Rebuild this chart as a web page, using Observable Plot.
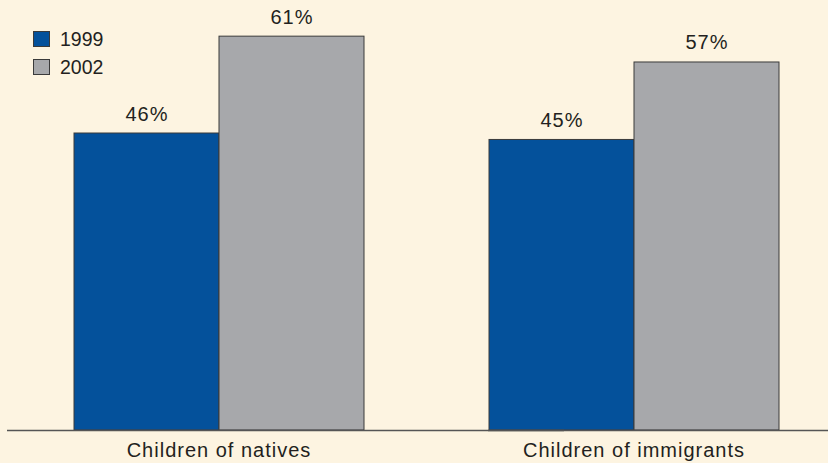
<!DOCTYPE html>
<html>
<head>
<meta charset="utf-8">
<script src="https://cdn.jsdelivr.net/npm/d3@7"></script>
<script src="https://cdn.jsdelivr.net/npm/@observablehq/plot@0.6"></script>
<style>
  html, body { margin: 0; padding: 0; background: #fdf4e1; }
  #wrap { position: relative; width: 828px; height: 463px; background: #fdf4e1; font-family: "Liberation Sans", Arial, sans-serif; color: #231f20; }
  #wrap svg text { letter-spacing: 1px; }
  #legend { position: absolute; left: 33px; top: 25px; font-size: 19.5px; line-height: 28px; }
  .item { display: flex; align-items: center; height: 28px; }
  .sw { width: 17px; height: 16px; border: 1px solid #3a3a3a; margin-right: 10px; box-sizing: border-box; }
</style>
</head>
<body>
<div id="wrap"></div>
<script>
const categories = ["Children of natives", "Children of immigrants"];
const years = ["1999", "2002"];
const values1999 = [46, 45];
const values2002 = [61, 57];
const colors = ["#04519b", "#a7a8ab"];

const data = [];
categories.forEach((c, i) => {
  data.push({category: c, year: years[0], value: values1999[i]});
  data.push({category: c, year: years[1], value: values2002[i]});
});

const font = "Liberation Sans, Arial, sans-serif";
const chart = Plot.plot({
  width: 828,
  height: 463,
  marginLeft: 72,
  marginRight: 49,
  marginTop: 0,
  marginBottom: 33,
  style: {background: "transparent", fontFamily: font, fontSize: "20px", color: "#231f20"},
  fx: {domain: categories, paddingInner: 0.3, paddingOuter: 0, label: null, axis: "bottom", tickSize: 0, tickPadding: 12},
  x: {domain: years, padding: 0, axis: null},
  y: {domain: [0, 66.6], axis: null},
  color: {domain: years, range: colors},
  marks: [
    Plot.barY(data, {fx: "category", x: "year", y: "value", fill: "year", stroke: "#3a3a3a", strokeWidth: 1}),
    Plot.text(data, {fx: "category", x: "year", y: "value", text: d => d.value + "%", lineAnchor: "bottom", dy: -13, fontSize: 20, fill: "#231f20"}),
    Plot.ruleY([{category: categories[0]}], {fx: "category", y: 0, insetLeft: -66, insetRight: -200, stroke: "#555", strokeWidth: 1.5}),
    Plot.ruleY([{category: categories[1]}], {fx: "category", y: 0, insetLeft: 0, insetRight: -49, stroke: "#555", strokeWidth: 1.5})
  ]
});
const wrap = document.getElementById("wrap");
wrap.appendChild(chart);

const legend = document.createElement("div");
legend.id = "legend";
const cs = chart.scale("color");
years.forEach(y => {
  const item = document.createElement("div");
  item.className = "item";
  const sw = document.createElement("span");
  sw.className = "sw";
  sw.style.background = cs.apply(y);
  const t = document.createElement("span");
  t.textContent = y;
  item.appendChild(sw);
  item.appendChild(t);
  legend.appendChild(item);
});
wrap.appendChild(legend);
</script>
</body>
</html>
